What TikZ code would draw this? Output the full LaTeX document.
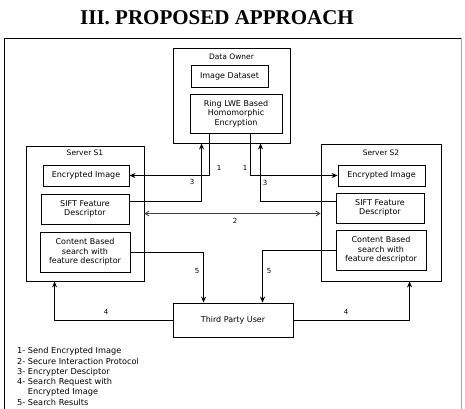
\documentclass[tikz,border=0pt]{standalone}
\usepackage{fontspec}
\setmainfont{DejaVu Sans}
\newfontfamily\titlefont{Liberation Serif}
\usetikzlibrary{arrows.meta,calc}
\begin{document}
\begin{tikzpicture}[x=1pt,y=-1pt,
  box/.style={draw,line width=0.9pt,rectangle,inner sep=0pt,align=center,font=\fontsize{8}{9.7}\selectfont},
  ttl/.style={font=\fontsize{7.5}{8}\selectfont,inner sep=0pt},
  lbl/.style={font=\fontsize{7}{8}\selectfont,inner sep=0pt},
  arr/.style={line width=0.8pt,-{Stealth[length=6pt,width=5pt,inset=2pt]}},
  arrtwo/.style={line width=0.8pt,draw=black!75,{Straight Barb[length=4pt,width=5pt]}-{Straight Barb[length=4pt,width=5pt]}},
  leg/.style={font=\fontsize{8.2}{9}\selectfont,inner sep=0pt,anchor=west}]
\useasboundingbox (0,0) rectangle (465,408);
\fill[white] (0,0) rectangle (465,408);
% title
\node[font=\titlefont\fontsize{21}{24}\selectfont\bfseries,inner sep=0pt] (title) at (217,18) {III. PROPOSED APPROACH};
% frame
\draw[line width=0.9pt] (4,410) -- (4,38) -- (461,38);
\draw[line width=0.9pt,gray!70] (461,38) -- (461,410);
% data owner
\node[box,minimum width=117pt,minimum height=95pt] (do) at (231.5,95.5) {};
\node[ttl] (dot) at (231.5,57) {Data Owner};
\node[box,minimum width=77pt,minimum height=22pt] (ids) at (229.5,76) {Image Dataset};
\node[box,minimum width=92pt,minimum height=39pt] (ring) at (236,113.5) {Ring LWE Based\\Homomorphic\\Encryption};
% server S1
\node[box,minimum width=118pt,minimum height=135pt] (s1) at (85,213.5) {};
\node[ttl] (s1t) at (85,153) {Server S1};
\node[box,minimum width=86pt,minimum height=21pt] (s1enc) at (86,175.5) {Encrypted Image};
\node[box,minimum width=88pt,minimum height=30pt] (s1sift) at (85,209) {SIFT Feature\\Descriptor};
\node[box,minimum width=90pt,minimum height=40pt] (s1cb) at (85,252) {Content Based\\search with\\feature descriptor};
% server S2
\node[box,minimum width=120pt,minimum height=137pt] (s2) at (381,212.5) {};
\node[ttl] (s2t) at (381,153) {Server S2};
\node[box,minimum width=87pt,minimum height=21pt] (s2enc) at (381.5,175.5) {Encrypted Image};
\node[box,minimum width=88pt,minimum height=30pt] (s2sift) at (380,208) {SIFT Feature\\Descriptor};
\node[box,minimum width=90pt,minimum height=40pt] (s2cb) at (381,250) {Content Based\\search with\\feature descriptor};
% third party
\node[box,minimum width=120pt,minimum height=34pt] (tpu) at (233,320) {Third Party User};
% connectors
\draw[arr] ($(ring.south west)+(20,0)$) |- (s1enc.east);
\draw[arr] ($(ring.south west)+(61,0)$) |- (s2enc.west);
\draw[arr] ($(s1sift.east)+(0,-8)$) -| ($(do.south west)+(29,0)$);
\draw[arr] ($(s2sift.west)+(0,-7)$) -| ($(do.south west)+(88,0)$);
\draw[arrtwo] (s1.east) -- (s1.east -| s2.west);
\draw[arr] (s1cb.east) -| ($(tpu.north west)+(31,0)$);
\draw[arr] (s2cb.west) -| ($(tpu.north west)+(90,0)$);
\draw[arr] (tpu.west) -| ($(s1.south west)+(29,0)$);
\draw[arr] (tpu.east) -| ($(s2.south west)+(89,0)$);
% labels
\node[lbl] (l1a) at (219,168) {1};
\node[lbl] (l1b) at (245,168) {1};
\node[lbl] (l3a) at (192,182) {3};
\node[lbl] (l3b) at (265,183) {3};
\node[lbl] (l2) at (235,221) {2};
\node[lbl] (l5a) at (197,271) {5};
\node[lbl] (l5b) at (269,271) {5};
\node[lbl] (l4a) at (106,312) {4};
\node[lbl] (l4b) at (346,312) {4};
% legend
\node[leg] (g1) at (17,351) {1- Send Encrypted Image};
\node[leg] (g2) at (17,361) {2- Secure Interaction Protocol};
\node[leg] (g3) at (17,372) {3- Encrypter Desciptor};
\node[leg] (g4) at (17,382) {4- Search Request with};
\node[leg] (g5) at (17,392) {\hphantom{4- }Encrypted Image};
\node[leg] (g6) at (17,402) {5- Search Results};
\end{tikzpicture}
\end{document}
